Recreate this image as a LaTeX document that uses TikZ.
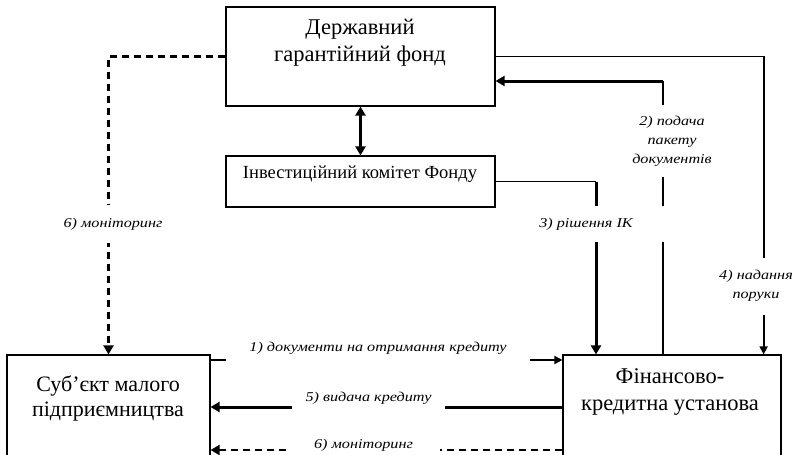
\documentclass[tikz,border=0pt]{standalone}
\usepackage{fontspec}
\setmainfont{Liberation Serif}
\newfontfamily\labfont[FakeStretch=1.2]{Liberation Serif}
\usetikzlibrary{arrows.meta}
\begin{document}
\begin{tikzpicture}[x=1pt,y=-1pt,
  every node/.style={inner sep=0pt},
  boxstyle/.style={draw, line width=1.2pt},
  boxtext/.style={align=center, font=\fontsize{22.5}{27}\selectfont},
  lab/.style={fill=white, align=center, font=\labfont\itshape\fontsize{13.5}{19}\selectfont},
  thinline/.style={line width=1.3pt},
  medline/.style={line width=1.8pt},
  thickline/.style={line width=3pt},
  dashline/.style={line width=2.5pt, dash pattern=on 7pt off 5pt},
  tipthick/.style={-{Triangle[length=9pt,width=10pt]}},
  tipthin/.style={-{Triangle[length=8pt,width=8pt]}},
  tipboth/.style={{Triangle[length=9pt,width=10pt]}-{Triangle[length=9pt,width=10pt]}}
]
\useasboundingbox (0,0) rectangle (798,455);
% boxes
\node[boxstyle, minimum width=269pt, minimum height=99pt] (top) at (360.5,56.5) {};
\node[boxstyle, minimum width=269pt, minimum height=51pt] (inner) at (360.5,181.5) {};
\node[boxstyle, minimum width=203pt, minimum height=120pt] (sme) at (108.5,415) {};
\node[boxstyle, minimum width=218pt, minimum height=120pt] (bank) at (672,415) {};
\node[boxtext] (toptext) at (360,43) {Державний\\гарантійний фонд};
\node[boxtext, font=\fontsize{18.5}{20}\selectfont] (innertext) at (360,174) {Інвестиційний комітет Фонду};
\node[boxtext, font=\fontsize{22}{25}\selectfont] (smetext) at (108,398) {Суб’єкт малого\\підприємництва};
\node[boxtext] (banktext) at (670,392) {Фінансово-\\кредитна установа};
% connectors
\draw[dashline, tipthick] (top.west) -| (sme.north);
\draw[medline, tipthin] (top.east) -| ([xshift=-18pt]bank.north east);
\coordinate (c2) at (663,81);
\draw[thinline] ([xshift=-9pt]bank.north) -- (c2);
\draw[thickline, tipthick] (c2) -- (c2 -| top.east);
\coordinate (c3) at (596,181.5);
\draw[thinline] (inner.east) -- (c3);
\draw[thickline, tipthick] (c3) -- (c3 |- bank.north);
\draw[thickline, tipboth] (top.south) -- (inner.north);
\draw[medline, tipthin] ([yshift=55pt]sme.east) -- ([yshift=55pt]bank.west);
\draw[thickline, tipthick] ([yshift=8pt]bank.west) -- ([yshift=8pt]sme.east);
\draw[dashline, tipthick] ([yshift=-35pt]bank.west) -- ([yshift=-35pt]sme.east);
% labels
\node[lab, minimum height=38pt] (l6a) at (113,224) {6) моніторинг};
\node[lab, minimum height=72pt] (l2) at (672,141) {2) подача\\пакету\\документів};
\node[lab, minimum width=160pt, minimum height=36pt] (l3) at (586,224) {3) рішення ІК};
\node[lab, minimum height=57pt] (l4) at (756,286) {4) надання\\поруки};
\node[lab, minimum width=304pt, minimum height=30pt] (l1) at (378,348) {1) документи на отримання кредиту};
\node[lab, minimum width=153pt, minimum height=24pt] (l5) at (368.5,398) {5) видача кредиту};
\node[lab, minimum width=153pt, minimum height=24pt] (l6b) at (363.5,445) {6) моніторинг};
\end{tikzpicture}
\end{document}
